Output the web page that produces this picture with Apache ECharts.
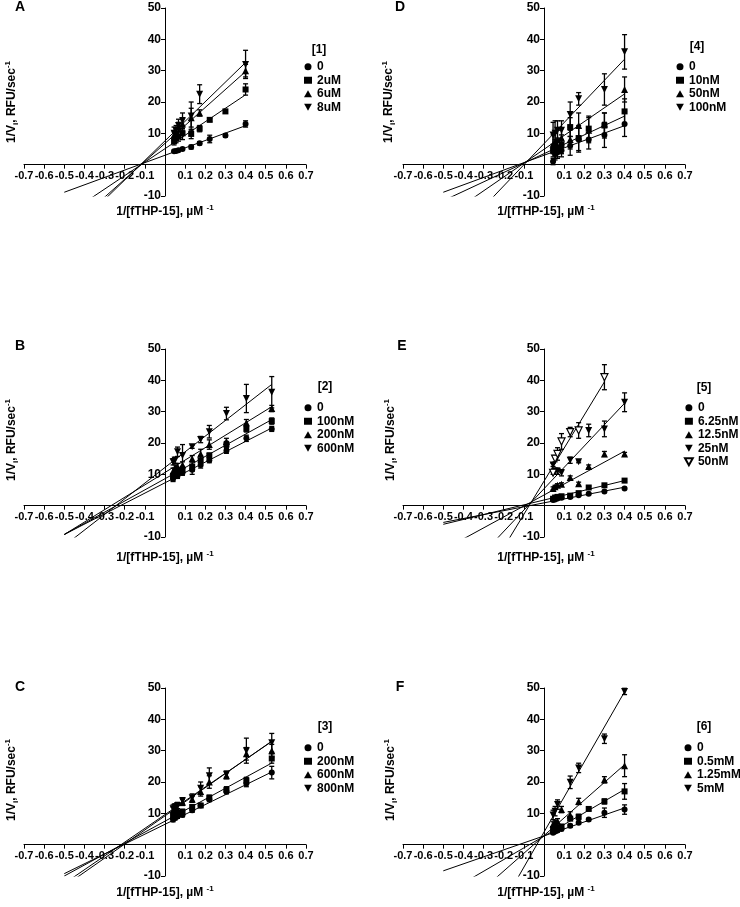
<!DOCTYPE html>
<html>
<head>
<meta charset="utf-8">
<script src="https://cdn.jsdelivr.net/npm/echarts@6/dist/echarts.min.js"></script>
<style>
html,body{margin:0;padding:0;background:#fff;}
#chart{width:740px;height:907px;}
</style>
</head>
<body>
<div id="chart"></div>
<script>
// ---------- DATA ----------
const xTicks = [-0.7,-0.6,-0.5,-0.4,-0.3,-0.2,-0.1,0,0.1,0.2,0.3,0.4,0.5,0.6,0.7];
const yTicks = [-10,0,10,20,30,40,50];
const xLow  = [0.045, 0.055, 0.067, 0.087, 0.13, 0.172, 0.222, 0.3, 0.4];
const xHigh = [0.04, 0.05, 0.062, 0.087, 0.135, 0.177, 0.22, 0.305, 0.404, 0.53];

// Panel A  ([1])
const aNames = ['0','2uM','6uM','8uM'];
const a0  = [4.3, 4.4, 4.6, 5.0, 5.6, 6.8, 8.2, 9.3, 13.0];
const a0e = [0.3, 0.3, 0.3, 0.4, 0.6, 0.5, 1.2, 0.5, 1.0];
const a2  = [7.5, 8.5, 9.0, 10.0, 9.8, 11.5, 14.3, 17.0, 24.0];
const a2e = [1.2, 1.5, 1.5, 2.0, 1.5, 1.0, 0.5, 0.6, 1.8];
const a6  = [9.5, 10.5, 12.0, 13.0, 15.0, 16.5, null, null, 30.0];
const a6e = [1.0, 1.0, 1.5, 2.0, 3.0, 1.0, 0, 0, 2.0];
const a8  = [10.0, 11.0, 12.5, 14.0, 15.5, 22.5, null, null, 32.0];
const a8e = [2.0, 1.5, 2.0, 2.5, 4.5, 3.0, 0, 0, 4.5];
const aSlope = [23.6, 43.0, 57.3, 62.5];
const aIntercept = [3.0, 5.1, 6.8, 7.6];

// Panel B  ([2])
const bNames = ['0','100nM','200nM','600nM'];
const b0   = [8.5, 9.5, 9.5, 10.5, 11.5, 13.0, 14.5, 17.5, 21.5, 24.5];
const b0e  = [0.8, 0.8, 0.8, 0.8, 1.5, 1.0, 0.8, 0.8, 1.0, 0.8];
const b1   = [9.5, 10.5, 11.0, 11.5, 12.5, 14.5, 16.0, 19.5, 24.5, 27.0];
const b1e  = [0.8, 0.8, 1.0, 1.0, 1.5, 1.5, 0.8, 1.0, 1.0, 1.0];
const b2   = [11.0, 12.0, 12.5, 13.0, 15.0, 16.5, 19.5, 20.5, 26.5, 31.0];
const b2e  = [1.0, 1.0, 1.0, 1.0, 1.0, 1.5, 1.5, 1.0, 1.0, 1.0];
const b6   = [14.0, 14.5, 17.2, 16.0, 18.8, 21.1, 23.6, 29.4, 34.2, 36.2];
const b6e  = [1.0, 1.0, 1.5, 3.5, 0.5, 1.0, 2.0, 2.0, 4.5, 5.0];
const bSlope = [33.0, 35.6, 39.6, 50.0];
const bIntercept = [7.3, 8.6, 10.6, 12.2];

// Panel C  ([3])
const cNames = ['0','200nM','600nM','800nM'];
const c0   = [8.0, 8.5, 9.0, 9.5, 11.0, 12.5, 14.5, 17.0, 19.5, 23.0];
const c0e  = [0.7, 0.6, 0.6, 0.6, 0.7, 0.6, 0.8, 0.8, 1.0, 2.0];
const c2   = [9.0, 9.5, 10.0, 10.5, 12.0, 12.5, 15.0, 17.5, 20.5, 27.5];
const c2e  = [0.8, 0.8, 0.8, 0.8, 0.8, 0.6, 0.8, 1.0, 1.0, 1.5];
const c6   = [11.0, 12.0, 11.5, 13.5, 14.5, 17.0, 20.0, 22.0, 29.0, 30.0];
const c6e  = [1.0, 1.0, 1.0, 1.0, 1.0, 1.5, 2.0, 1.0, 2.0, 2.0];
const c8   = [11.5, 12.0, 12.5, 14.0, 15.0, 18.0, 22.0, 22.5, 30.0, 32.5];
const c8e  = [1.2, 1.0, 1.0, 1.0, 1.2, 2.0, 2.5, 1.0, 4.0, 3.0];
const cSlope = [31.5, 35.0, 45.0, 44.0];
const cIntercept = [6.5, 7.5, 9.2, 9.6];

// Panel D  ([4])
const dNames = ['0','10nM','50nM','100nM'];
const d0   = [1.0, 3.5, 4.0, 4.5, 6.0, 8.0, 8.0, 9.5, 13.0];
const d0e  = [1.0, 2.0, 2.0, 2.0, 3.0, 4.0, 3.0, 4.0, 4.0];
const d1   = [4.5, 5.0, 5.5, 6.5, 12.0, 8.5, 11.5, 12.5, 17.0];
const d1e  = [2.0, 3.0, 3.0, 3.0, 3.0, 4.0, 4.0, 4.0, 4.0];
const d5   = [6.5, 7.0, 8.0, 8.5, 8.0, 12.5, 11.0, 13.0, 24.0];
const d5e  = [3.0, 3.0, 3.0, 3.0, 3.0, 4.0, 4.0, 3.5, 4.0];
const d10  = [9.5, 10.0, 11.0, 11.0, 16.0, 21.0, null, 24.0, 36.0];
const d10e = [4.0, 4.0, 3.0, 3.0, 4.0, 2.0, 0, 5.0, 5.5];
const dSlope = [23.6, 30.0, 44.2, 67.4];
const dIntercept = [3.0, 3.5, 4.9, 6.7];

// Panel E  ([5])
const eNames = ['0','6.25nM','12.5nM','25nM','50nM'];
const e0   = [1.8, 2.0, 2.3, 2.5, 2.8, 3.3, 3.8, 4.5, 5.5];
const e0e  = [0.3, 0.3, 0.3, 0.3, 0.3, 0.3, 0.3, 0.3, 0.3];
const e1   = [2.2, 2.6, 2.8, 3.0, 3.2, 4.0, 5.8, 6.5, 8.0];
const e1e  = [0.4, 0.4, 0.4, 0.4, 0.4, 0.4, 0.4, 0.4, 0.4];
const e2   = [5.5, 6.0, 6.5, 6.8, 9.0, 7.0, 12.5, 16.5, 16.5];
const e2e  = [0.5, 0.5, 0.5, 0.5, 0.5, 0.5, 0.5, 0.8, 0.5];
const e3   = [13.0, 11.0, 11.0, 10.5, 14.5, 14.0, 24.0, 24.5, 33.0];
const e3e  = [0.5, 1.0, 1.0, 1.0, 1.0, 0.3, 2.0, 2.5, 3.0];
const e4   = [10.5, 15.0, 16.5, 20.5, 23.5, 24.0, null, 41.0, null];
const e4e  = [0.5, 1.0, 2.0, 2.5, 1.5, 2.5, 0, 4.0, 0];
const eSlope = [12.5, 15.5, 35.0, 68.2, 105.7];
const eIntercept = [0.9, 1.8, 3.4, 5.4, 7.8];

// Panel F  ([6])
const fNames = ['0','0.5mM','1.25mM','5mM'];
const f0   = [3.8, 4.2, 4.5, 5.0, 6.0, 7.0, 8.0, 10.2, 11.2];
const f0e  = [0.4, 0.4, 0.4, 0.5, 0.5, 0.5, 0.4, 1.5, 1.5];
const f1   = [5.0, 5.5, 5.5, 5.8, 8.3, 8.9, 11.4, 13.8, 17.0];
const f1e  = [0.5, 0.5, 0.5, 0.5, 0.5, 0.8, 0.5, 0.8, 2.5];
const f2   = [6.5, 7.0, 7.5, 11.2, 9.5, 13.8, null, 20.7, 25.2];
const f2e  = [0.8, 0.8, 0.8, 1.0, 1.0, 1.0, 0, 1.0, 3.5];
const f3   = [9.5, 10.7, 12.8, null, 19.9, 24.5, null, 33.8, 48.9];
const f3e  = [1.5, 1.5, 1.5, 0, 2.0, 1.5, 0, 1.5, 1.0];
const fSlope = [22.3, 37.3, 56.6, 112.0];
const fIntercept = [2.8, 2.7, 2.9, 4.0];

const fitStartX = -0.5;

// ---------- BUILD ----------
const FONT = '"Liberation Sans", Arial, sans-serif';
const INK = '#000';
const DOWN = 'path://M0,0 L10,0 L5,9 Z';
const symbolSet = [
  {symbol:'circle', size:6, fill:INK},
  {symbol:'rect', size:6, fill:INK},
  {symbol:'triangle', size:7, fill:INK},
  {symbol:DOWN, size:7, fill:INK},
  {symbol:DOWN, size:7, fill:'#fff'}
];

const panels = [
  {id:'A', tag:'[1]', names:aNames, xs:xLow,  ys:[a0,a2,a6,a8],     es:[a0e,a2e,a6e,a8e],     m:aSlope, b:aIntercept},
  {id:'B', tag:'[2]', names:bNames, xs:xHigh, ys:[b0,b1,b2,b6],     es:[b0e,b1e,b2e,b6e],     m:bSlope, b:bIntercept},
  {id:'C', tag:'[3]', names:cNames, xs:xHigh, ys:[c0,c2,c6,c8],     es:[c0e,c2e,c6e,c8e],     m:cSlope, b:cIntercept},
  {id:'D', tag:'[4]', names:dNames, xs:xLow,  ys:[d0,d1,d5,d10],    es:[d0e,d1e,d5e,d10e],    m:dSlope, b:dIntercept},
  {id:'E', tag:'[5]', names:eNames, xs:xLow,  ys:[e0,e1,e2,e3,e4],  es:[e0e,e1e,e2e,e3e,e4e], m:eSlope, b:eIntercept},
  {id:'F', tag:'[6]', names:fNames, xs:xLow,  ys:[f0,f1,f2,f3],     es:[f0e,f1e,f2e,f3e],     m:fSlope, b:fIntercept}
];

// layout
const GW = 282, GH = 188;
const gridPos = [
  {left:24,  top:8},   {left:24,  top:349}, {left:24,  top:688},
  {left:403, top:8},   {left:403, top:349}, {left:403, top:688}
];
const legendPos = [
  {left:299, top:55}, {left:299, top:396}, {left:299, top:736},
  {left:671, top:55}, {left:679, top:396}, {left:679, top:736}
];
const tagPos = [[319,50],[325,387],[325,727],[697,47],[704,388],[704,727]];
const letterPos = [[20,7],[20,346],[20,687],[400,7],[402,346],[400,687]];
const yTitlePos = [[12,102],[12,440],[12,780],[389,102],[391,440],[391,780]];
const xTitlePos = [[165,212],[165,558],[165,893],[546,212],[546,558],[546,893]];

const xMin = xTicks[0], xMax = xTicks[xTicks.length-1];
const yMin = yTicks[0], yMax = yTicks[yTicks.length-1];
// axes cross at zero: shift axes into the grid with (negative) offsets
const xAxisOffset = -GH * (0 - yMin) / (yMax - yMin);
const yAxisOffset = -GW * (0 - xMin) / (xMax - xMin);

const grid=[], xAxis=[], yAxis=[], series=[], legend=[], graphic=[];
const txt = {fontFamily:FONT, fontWeight:'bold', color:INK, fontSize:12};

panels.forEach((p, i) => {
  grid.push({left:gridPos[i].left, top:gridPos[i].top, width:GW, height:GH});
  xAxis.push({
    gridIndex:i, type:'value', min:xMin, max:xMax, interval:0.1,
    position:'bottom', offset:xAxisOffset,
    axisLine:{onZero:false, lineStyle:{color:INK, width:1}},
    axisTick:{show:true, inside:false, length:4, lineStyle:{color:INK}},
    splitLine:{show:false},
    axisLabel:Object.assign({}, txt, {fontSize:11, margin:6, showMinLabel:true, showMaxLabel:true,
      formatter:v => Math.abs(v) < 1e-9 ? '' : (Math.round(v*10)/10).toFixed(1)})
  });
  yAxis.push({
    gridIndex:i, type:'value', min:yMin, max:yMax, interval:10,
    position:'left', offset:yAxisOffset,
    axisLine:{onZero:false, lineStyle:{color:INK, width:1}},
    axisTick:{show:true, inside:false, length:4, lineStyle:{color:INK}},
    splitLine:{show:false},
    axisLabel:Object.assign({}, txt, {margin:4,
      formatter:v => v === 0 ? '' : String(v)})
  });

  const legendNames = [];
  p.names.forEach((nm, k) => {
    const sname = p.id + '|' + nm;
    legendNames.push(sname);
    const pts = [], bars = [];
    let xmax = -Infinity;
    p.xs.forEach((x, j) => {
      const y = p.ys[k][j];
      if (y === null || y === undefined) return;
      pts.push([x, y]);
      const e = p.es[k][j];
      if (e > 0) bars.push([x, y - e, y + e]);
      if (x > xmax) xmax = x;
    });
    // fitted line (parameters)
    const m = p.m[k], b = p.b[k];
    series.push({
      type:'line', xAxisIndex:i, yAxisIndex:i, name:p.id+'_fit'+k, silent:true,
      showSymbol:false, symbol:'none', clip:true, z:1,
      lineStyle:{color:INK, width:1},
      data:[[fitStartX, m*fitStartX + b], [xmax, m*xmax + b]]
    });
    // error bars
    series.push({
      type:'custom', xAxisIndex:i, yAxisIndex:i, name:p.id+'_err'+k, silent:true, z:2,
      encode:{x:0, y:[1,2]},
      renderItem:(params, api) => {
        const x = api.value(0);
        const lo = api.coord([x, api.value(1)]);
        const hi = api.coord([x, api.value(2)]);
        const w = 2.5;
        const st = {stroke:INK, lineWidth:1.3};
        return {type:'group', children:[
          {type:'line', shape:{x1:lo[0], y1:lo[1], x2:hi[0], y2:hi[1]}, style:st},
          {type:'line', shape:{x1:lo[0]-w, y1:lo[1], x2:lo[0]+w, y2:lo[1]}, style:st},
          {type:'line', shape:{x1:hi[0]-w, y1:hi[1], x2:hi[0]+w, y2:hi[1]}, style:st}
        ]};
      },
      data:bars
    });
    const s = symbolSet[(p.id === 'E' && k === 4) ? 4 : Math.min(k, 3)];
    series.push({
      type:'scatter', xAxisIndex:i, yAxisIndex:i, name:sname, z:3,
      symbol:s.symbol, symbolSize:s.size,
      itemStyle:{color:s.fill, opacity:1, borderColor:INK, borderWidth:s.fill === '#fff' ? 1.2 : 0},
      data:pts
    });
  });

  legend.push({
    data:legendNames, orient:'vertical', left:legendPos[i].left, top:legendPos[i].top,
    itemWidth:8, itemHeight:7, itemGap:0, selectedMode:false,
    itemStyle:{opacity:1},
    textStyle:Object.assign({lineHeight:13.5}, txt),
    formatter:name => name.split('|')[1]
  });

  graphic.push({type:'text', x:tagPos[i][0], y:tagPos[i][1],
    style:{text:p.tag, font:'bold 12px '+FONT, fill:INK, align:'center', verticalAlign:'middle'}});
  graphic.push({type:'text', x:letterPos[i][0], y:letterPos[i][1],
    style:{text:p.id, font:'bold 14px '+FONT, fill:INK, align:'center', verticalAlign:'middle'}});
  graphic.push({type:'text', x:yTitlePos[i][0], y:yTitlePos[i][1], rotation:Math.PI/2,
    style:{text:'{a|1/V}{s|i}{a|, RFU/sec}{p|-1}', align:'center', verticalAlign:'middle', fill:INK,
      rich:{
        a:{font:'bold 12px '+FONT, fill:INK, verticalAlign:'middle', lineHeight:16},
        s:{font:'bold 8px '+FONT, fill:INK, verticalAlign:'bottom', lineHeight:16},
        p:{font:'bold 8px '+FONT, fill:INK, verticalAlign:'top', lineHeight:16}
      }}});
  graphic.push({type:'text', x:xTitlePos[i][0], y:xTitlePos[i][1],
    style:{text:'{a|1/[fTHP-15], \u00b5M }{p|-1}', align:'center', verticalAlign:'middle', fill:INK,
      rich:{
        a:{font:'bold 12px '+FONT, fill:INK, verticalAlign:'middle', lineHeight:16},
        p:{font:'bold 8px '+FONT, fill:INK, verticalAlign:'top', lineHeight:16}
      }}});
});

const chart = echarts.init(document.getElementById('chart'), null, {renderer:'canvas'});
chart.setOption({
  animation:false, backgroundColor:'#fff',
  textStyle:{fontFamily:FONT},
  grid, xAxis, yAxis, series, legend, graphic
});
</script>
</body>
</html>
